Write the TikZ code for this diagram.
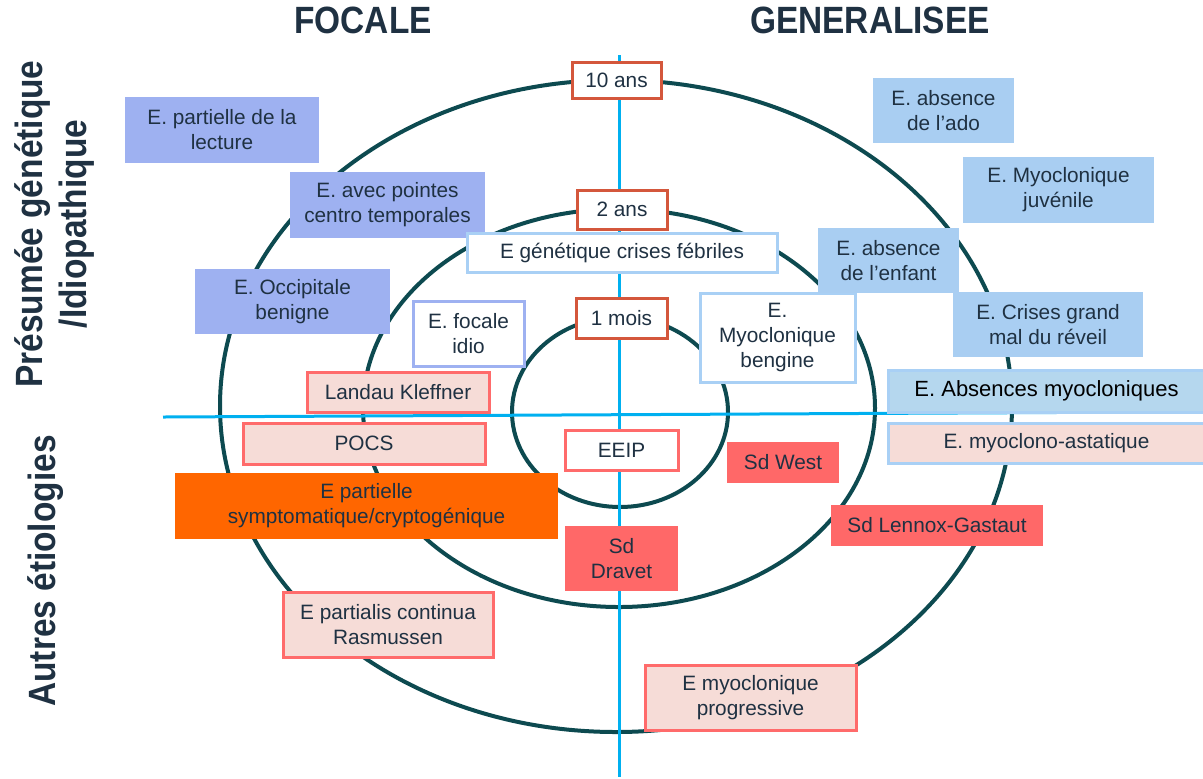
\documentclass[tikz,border=0pt]{standalone}
\usepackage{graphicx}
\usepackage{fontspec}
\setmainfont{Liberation Sans}
\definecolor{inkdark}{HTML}{1F3142}
\definecolor{ringteal}{HTML}{0D4A50}
\definecolor{axisblue}{HTML}{00B0F0}
\definecolor{focalfill}{HTML}{9EB1F1}
\definecolor{generfill}{HTML}{A9CEF2}
\definecolor{generline}{HTML}{A9D0F5}
\definecolor{absfill}{HTML}{B5D7EE}
\definecolor{agered}{HTML}{D4573C}
\definecolor{pinkfill}{HTML}{F6DCD7}
\definecolor{redline}{HTML}{FF6B6B}
\definecolor{redfill}{HTML}{FF6868}
\definecolor{orangefill}{HTML}{FF6600}
\newcommand{\narrow}[1]{\scalebox{0.88}[1]{#1}}

\begin{document}
\begin{tikzpicture}[
    x=0.5pt, y=-0.5pt,
    box/.style={rectangle, inner sep=0pt, align=center, text=inkdark,
        font=\fontsize{10.4}{12.5}\selectfont, line width=1.5pt},
    dims/.style 2 args={minimum width=#1pt, minimum height=#2pt},
    focal/.style={box, fill=focalfill},
    gener/.style={box, fill=generfill},
    agebox/.style={box, draw=agered, fill=white},
    whitegen/.style={box, draw=generline, fill=white},
    whitefoc/.style={box, draw=focalfill, fill=white},
    pinkbox/.style={box, draw=redline, fill=pinkfill},
    redbox/.style={box, fill=redfill},
    heading/.style={font=\fontsize{19}{22}\selectfont\bfseries, text=inkdark, align=center},
    ring/.style={draw=ringteal, line width=2pt},
    axis/.style={draw=axisblue, line width=1.5pt}
]
\useasboundingbox (0,0) rectangle (1203,778);

% rings
\draw[ring] (616,406) ellipse [x radius=198pt, y radius=163pt];
\draw[ring] (619,408) ellipse [x radius=128pt, y radius=99.5pt];
\draw[ring] (620,412) ellipse [x radius=54pt, y radius=47.5pt];

% axes
\coordinate (vtop) at (619,55);
\coordinate (vbot) at (619,777);
\coordinate (hleft) at (163,417);
\coordinate (hright) at (1153,412);
\draw[axis] (vtop) -- (vbot);
\draw[axis] (hleft) -- (hright);

% headings
\node[heading] (focale) at (363,20) {\narrow{FOCALE}};
\node[heading] (general) at (870,20) {\narrow{GENERALISEE}};
\node[heading, rotate=90] (idio) at (55,224) {\narrow{Présumée génétique}\\\narrow{/Idiopathique}};
\node[heading, rotate=90] (autres) at (46,571) {\narrow{Autres étiologies}};

% ages
\node[agebox, dims={44.5}{18}] (ans10) at (616.5,80) {10 ans};
\node[agebox, dims={45}{19.5}] (ans2) at (622,209.5) {2 ans};
\node[agebox, dims={45.5}{20}] (mois1) at (621.5,318) {1 mois};

% focal, idiopathic
\node[focal, dims={97}{33}] (lecture) at (222,130) {E. partielle de la\\lecture};
\node[focal, dims={97.5}{33}] (pointes) at (387.5,205) {E. avec pointes\\centro temporales};
\node[focal, dims={97.5}{32.5}] (occip) at (292.5,301.5) {E. Occipitale\\benigne};
\node[whitefoc, dims={55.5}{32.5}] (focidio) at (468.5,333.5) {E. focale\\idio};
\node[whitegen, dims={155}{19.5}] (febr) at (622,252.5) {E génétique crises fébriles};

% generalised, idiopathic
\node[whitegen, dims={77.5}{44.5}] (myobeng) at (777.5,337.5) {E.\\Myoclonique\\bengine};
\node[gener, dims={70.5}{32.5}] (ado) at (943.5,110.5) {E. absence\\de l’ado};
\node[gener, dims={95.5}{33}] (juven) at (1058.5,190) {E. Myoclonique\\juvénile};
\node[gener, dims={70.5}{32.5}] (enfant) at (888.5,260.5) {E. absence\\de l’enfant};
\node[gener, dims={95}{32.5}] (reveil) at (1048,324.5) {E. Crises grand\\mal du réveil};
\node[box, draw=generline, fill=absfill, text=black, dims={163.5}{21},
    font=\fontsize{11}{13}\selectfont] (absmyo) at (1051.5,391) {\hspace*{-5pt}E. Absences myocloniques};
\node[box, draw=generline, fill=pinkfill, dims={163.5}{20}] (astat) at (1051.5,443) {\hspace*{-5pt}E. myoclono-astatique};

% other aetiologies
\node[pinkbox, dims={91}{20}] (landau) at (398,392) {Landau Kleffner};
\node[pinkbox, dims={121}{20.5}] (pocs) at (364,443.5) {POCS};
\node[box, fill=orangefill, dims={191.5}{33}] (sympt) at (366.5,506) {E partielle\\symptomatique/cryptogénique};
\node[pinkbox, dims={105}{32.5}] (rasm) at (388,624.5) {E partialis continua\\Rasmussen};
\node[box, draw=redline, fill=white, dims={56.5}{20}] (eeip) at (621.5,450) {EEIP};
\node[redbox, dims={56}{20.5}] (west) at (783,462.5) {Sd West};
\node[redbox, dims={106}{20.5}] (lennox) at (937,525.5) {Sd Lennox-Gastaut};
\node[redbox, dims={56.5}{32.5}] (dravet) at (621.5,558.5) {Sd\\Dravet};
\node[pinkbox, dims={105.5}{32.5}] (progr) at (750.5,697.5) {E myoclonique\\progressive};
\end{tikzpicture}
\end{document}
